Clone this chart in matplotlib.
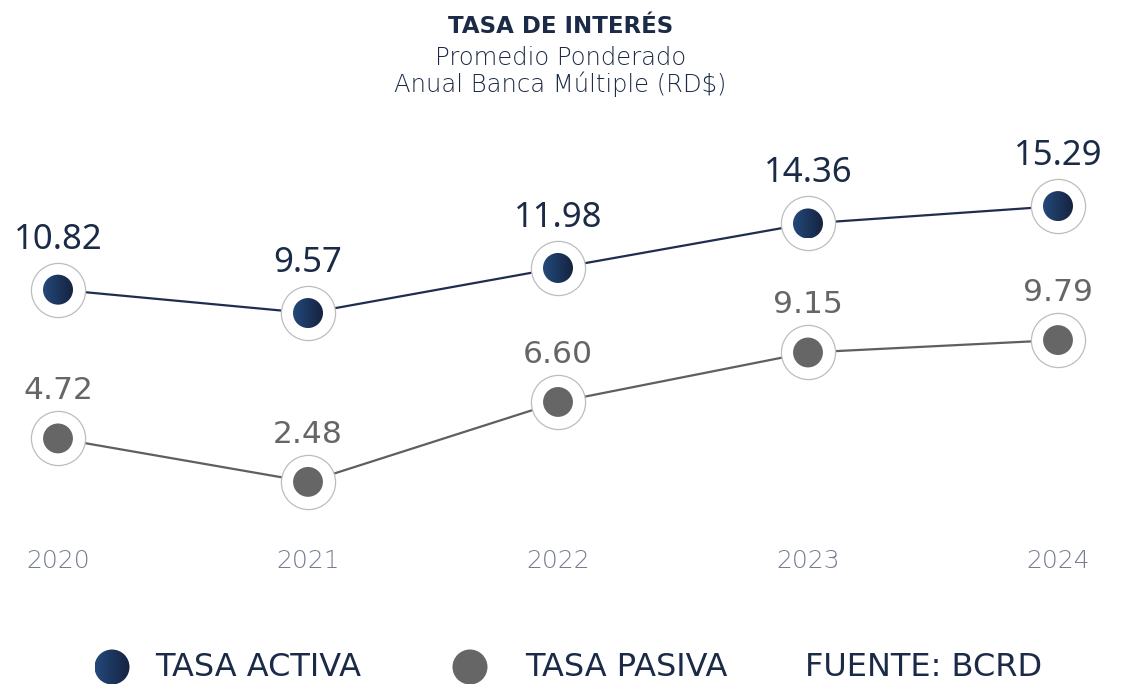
import matplotlib
matplotlib.use("Agg")
import matplotlib.pyplot as plt
import numpy as np
from matplotlib.patches import Circle
from matplotlib.transforms import Affine2D
from matplotlib.colors import LinearSegmentedColormap

years = ["2020", "2021", "2022", "2023", "2024"]
tasa_activa = [10.82, 9.57, 11.98, 14.36, 15.29]
tasa_pasiva = [4.72, 2.48, 6.60, 9.15, 9.79]

plt.rcParams['font.family'] = ['DejaVu Sans']

W, H = 1121, 684
fig = plt.figure(figsize=(W / 100, H / 100), dpi=100)
fig.patch.set_facecolor('white')

x = list(range(len(years)))
xlim = (-58 / 250, (W - 58) / 250)

ax1 = fig.add_axes([0, 0, 1, 1])
ax1.set_xlim(*xlim)
ax1.set_ylim((492 - H) / 18.7, 492 / 18.7)
ax2 = fig.add_axes([0, 0, 1, 1])
ax2.patch.set_alpha(0)
ax2.set_xlim(*xlim)
ax2.set_ylim((530 - H) / 19.4, 530 / 19.4)
for a in (ax1, ax2):
    a.axis('off')

navy = '#1b2a47'
gray_line = '#5f5f5f'
gray_dot = '#666666'
ring = '#bdbdbd'
grad_cmap = LinearSegmentedColormap.from_list('g', ['#24497a', '#1c365e', '#16233f'])
grad = np.linspace(0, 1, 64)[None, :].repeat(4, axis=0)

def grad_dot(ax, cx, cy, r_px, zorder):
    """gradient-filled dot centred at data point (cx, cy) with radius r_px pixels"""
    px, py = ax.transData.transform((cx, cy))
    circ = Circle((px, py), r_px, facecolor='none', edgecolor='none')
    circ.set_transform(Affine2D())
    inv = ax.transData.inverted()
    x0, y0 = inv.transform((px - r_px, py - r_px))
    x1, y1 = inv.transform((px + r_px, py + r_px))
    im = ax.imshow(grad, cmap=grad_cmap, extent=(x0, x1, y0, y1), aspect='auto',
                   interpolation='bilinear', zorder=zorder)
    im.set_clip_path(circ)

def draw(ax, vals, lcolor, tcolor, fam, fs, off, gradient):
    ax.plot(x, vals, color=lcolor, lw=1.6, zorder=2)
    ax.scatter(x, vals, s=39 ** 2, facecolor='white', edgecolor=ring, linewidth=0.9, zorder=3)
    if gradient:
        for xi, v in zip(x, vals):
            grad_dot(ax, xi, v, 15, 4)
    else:
        ax.scatter(x, vals, s=21.5 ** 2, facecolor=gray_dot, edgecolor='none', zorder=4)
    for xi, v in zip(x, vals):
        ax.annotate(f"{v:.2f}", (xi, v), xytext=(0, off), textcoords='offset pixels',
                    ha='center', va='baseline', fontsize=fs, color=tcolor, zorder=5,
                    family=fam)

draw(ax1, tasa_activa, '#1e2d50', navy, ['Noto Sans'], 25, 41, True)
draw(ax2, tasa_pasiva, gray_line, '#666666', ['DejaVu Sans'], 22.6, 39, False)
ax1.set_xlim(*xlim)
ax1.set_ylim((492 - H) / 18.7, 492 / 18.7)

for xi, yr in zip(x, years):
    ax1.text(xi, 1 - 568 / H, yr, transform=ax1.get_xaxis_transform(), ha='center', va='baseline',
             fontsize=18, color='#767d90', fontweight='ultralight')

fig.text(0.5, 1 - 33 / H, "TASA DE INTERÉS", ha='center', va='baseline', fontsize=16.5,
         color=navy, fontweight='bold')
fig.text(0.5, 1 - 65 / H, "Promedio Ponderado", ha='center', va='baseline', fontsize=17.5,
         color=navy, fontweight='ultralight')
fig.text(0.5, 1 - 92 / H, "Anual Banca Múltiple (RD$)", ha='center', va='baseline', fontsize=17.5,
         color=navy, fontweight='ultralight')

# legend
lax = fig.add_axes([0, 0, 1, 1])
lax.set_xlim(0, W)
lax.set_ylim(0, H)
lax.axis('off')
lax.patch.set_alpha(0)
legend_labels = ["TASA ACTIVA", "TASA PASIVA", "FUENTE: BCRD"]
grad_dot(lax, 112, H - 667, 17.5, 2)
lax.add_patch(Circle((470, H - 667), 17.5, facecolor=gray_dot, edgecolor='none'))
lax.set_xlim(0, W)
lax.set_ylim(0, H)
for tx, s in zip((155, 525, 805), legend_labels):
    fig.text(tx / W, 1 - 676 / H, s, ha='left', va='baseline', fontsize=23, color=navy)

fig.savefig('out.png', dpi=100, facecolor='white')
